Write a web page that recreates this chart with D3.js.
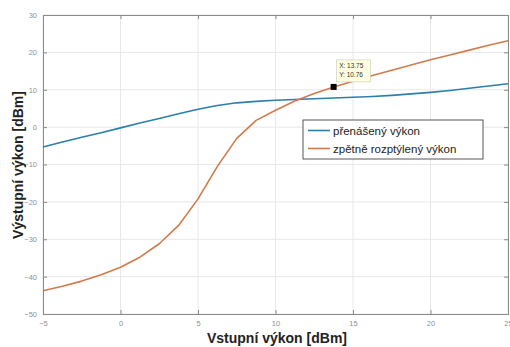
<!DOCTYPE html>
<html>
<head>
<meta charset="utf-8">
<script src="https://cdn.jsdelivr.net/npm/d3@7"></script>
<style>
  html, body { margin: 0; padding: 0; background: #fff; }
  svg { display: block; }
</style>
</head>
<body>
<svg id="chart" width="510" height="347"></svg>
<script>
// Input power sweep (dBm)
const inputPower = [-5, -3.75, -2.5, -1.25, 0, 1.25, 2.5, 3.75, 5, 6.25, 7.5, 8.75, 10,
  11.25, 12.5, 13.75, 15, 16.25, 17.5, 18.75, 20, 21.25, 22.5, 23.75, 25];
// Transmitted power (dBm)
const transmitted = [-5.3, -4.0, -2.7, -1.5, -0.2, 1.1, 2.3, 3.6, 4.8, 5.8, 6.5, 6.9, 7.2,
  7.4, 7.6, 7.8, 8.0, 8.2, 8.5, 8.9, 9.3, 9.8, 10.4, 11.0, 11.6];
// Backscattered power (dBm)
const backscattered = [-43.8, -42.6, -41.2, -39.5, -37.5, -34.8, -31.2, -26.3, -19.2, -10.5, -3.0, 1.8, 4.5,
  7.0, 9.0, 10.76, 12.3, 13.8, 15.2, 16.6, 18.0, 19.3, 20.6, 21.9, 23.1];
const seriesNames = ["přenášený výkon", "zpětně rozptýlený výkon"];
const xTicks = [-5, 0, 5, 10, 15, 20, 25];
const yTicks = [-50, -40, -30, -20, -10, 0, 10, 20, 30];
// Data tip point
const tipX = 13.75, tipY = 10.76;

const colors = ["#2c7fab", "#d27a4c"];
const svg = d3.select("#chart");
const m = { left: 43, top: 15, right: 508, bottom: 314 };

const x = d3.scaleLinear().domain([-5, 25]).range([m.left, m.right]);
const y = d3.scaleLinear().domain([-50, 30]).range([m.bottom, m.top]);

// grid
const grid = svg.append("g");
grid.selectAll(".gx").data(xTicks).enter().append("line")
  .attr("x1", d => x(d)).attr("x2", d => x(d))
  .attr("y1", m.top).attr("y2", m.bottom)
  .attr("stroke", "#e8e8e8").attr("stroke-width", 1);
grid.selectAll(".gy").data(yTicks).enter().append("line")
  .attr("x1", m.left).attr("x2", m.right)
  .attr("y1", d => y(d)).attr("y2", d => y(d))
  .attr("stroke", "#e8e8e8").attr("stroke-width", 1);

// axes (ticks pointing inward)
const tickFont = "Liberation Sans, Arial, sans-serif";
const xAxis = d3.axisBottom(x).tickValues(xTicks).tickSize(-4).tickPadding(7);
const yAxis = d3.axisLeft(y).tickValues(yTicks).tickSize(-4).tickPadding(6);
const xTop = d3.axisTop(x).tickValues(xTicks).tickSize(-4).tickFormat("");
const yRight = d3.axisRight(y).tickValues(yTicks).tickSize(-4).tickFormat("");

function style(g) {
  g.selectAll("path").attr("stroke", "#8a8a8a");
  g.selectAll("line").attr("stroke", "#8a8a8a");
  g.selectAll("text").attr("fill", "#8f8f8f").style("font-family", tickFont).style("font-size", "7.5px");
}
svg.append("g").attr("transform", `translate(0,${m.bottom})`).call(xAxis).call(style);
svg.append("g").attr("transform", `translate(${m.left},0)`).call(yAxis).call(style);
svg.append("g").attr("transform", `translate(0,${m.top})`).call(xTop).call(style);
svg.append("g").attr("transform", `translate(${m.right},0)`).call(yRight).call(style);

// lines
const line = d3.line().x(d => x(d[0])).y(d => y(d[1]));
[transmitted, backscattered].forEach((s, i) => {
  svg.append("path")
    .datum(inputPower.map((v, j) => [v, s[j]]))
    .attr("d", line)
    .attr("fill", "none")
    .attr("stroke", colors[i])
    .attr("stroke-width", 1.6)
    .attr("stroke-linejoin", "round");
});

// data tip
const px = x(tipX), py = y(tipY);
svg.append("rect").attr("x", px - 3).attr("y", py - 3).attr("width", 6).attr("height", 6).attr("fill", "#000");
const tip = svg.append("g").attr("transform", `translate(${px + 3},${py - 27})`);
tip.append("rect").attr("width", 34).attr("height", 22)
  .attr("fill", "#ffffe1").attr("stroke", "#c8c8b4").attr("stroke-width", 0.6);
tip.append("text").attr("x", 2.5).attr("y", 8.5).text("X: " + tipX.toFixed(2))
  .attr("font-family", tickFont).attr("font-size", "6.5px").attr("fill", "#333");
tip.append("text").attr("x", 2.5).attr("y", 17).text("Y: " + tipY.toFixed(2))
  .attr("font-family", tickFont).attr("font-size", "6.5px").attr("fill", "#333");

// legend
const lg = svg.append("g").attr("transform", "translate(303,120)");
lg.append("rect").attr("width", 180).attr("height", 39)
  .attr("fill", "#fff").attr("stroke", "#444").attr("stroke-width", 0.9);
seriesNames.forEach((n, i) => {
  const yy = 10.5 + i * 18;
  lg.append("line").attr("x1", 5).attr("x2", 27).attr("y1", yy).attr("y2", yy)
    .attr("stroke", colors[i]).attr("stroke-width", 1.6);
  lg.append("text").attr("x", 30).attr("y", yy + 4).text(n)
    .attr("font-family", tickFont).attr("font-size", "11.5px").attr("fill", "#222");
});

// axis titles
svg.append("text").attr("x", 277).attr("y", 343).attr("text-anchor", "middle")
  .attr("font-family", tickFont).attr("font-weight", "bold").attr("font-size", "14px").attr("fill", "#222")
  .text("Vstupní výkon [dBm]");
svg.append("text").attr("transform", "translate(23,165) rotate(-90)").attr("text-anchor", "middle")
  .attr("font-family", tickFont).attr("font-weight", "bold").attr("font-size", "14px").attr("fill", "#222")
  .text("Výstupní výkon [dBm]");
</script>
</body>
</html>
